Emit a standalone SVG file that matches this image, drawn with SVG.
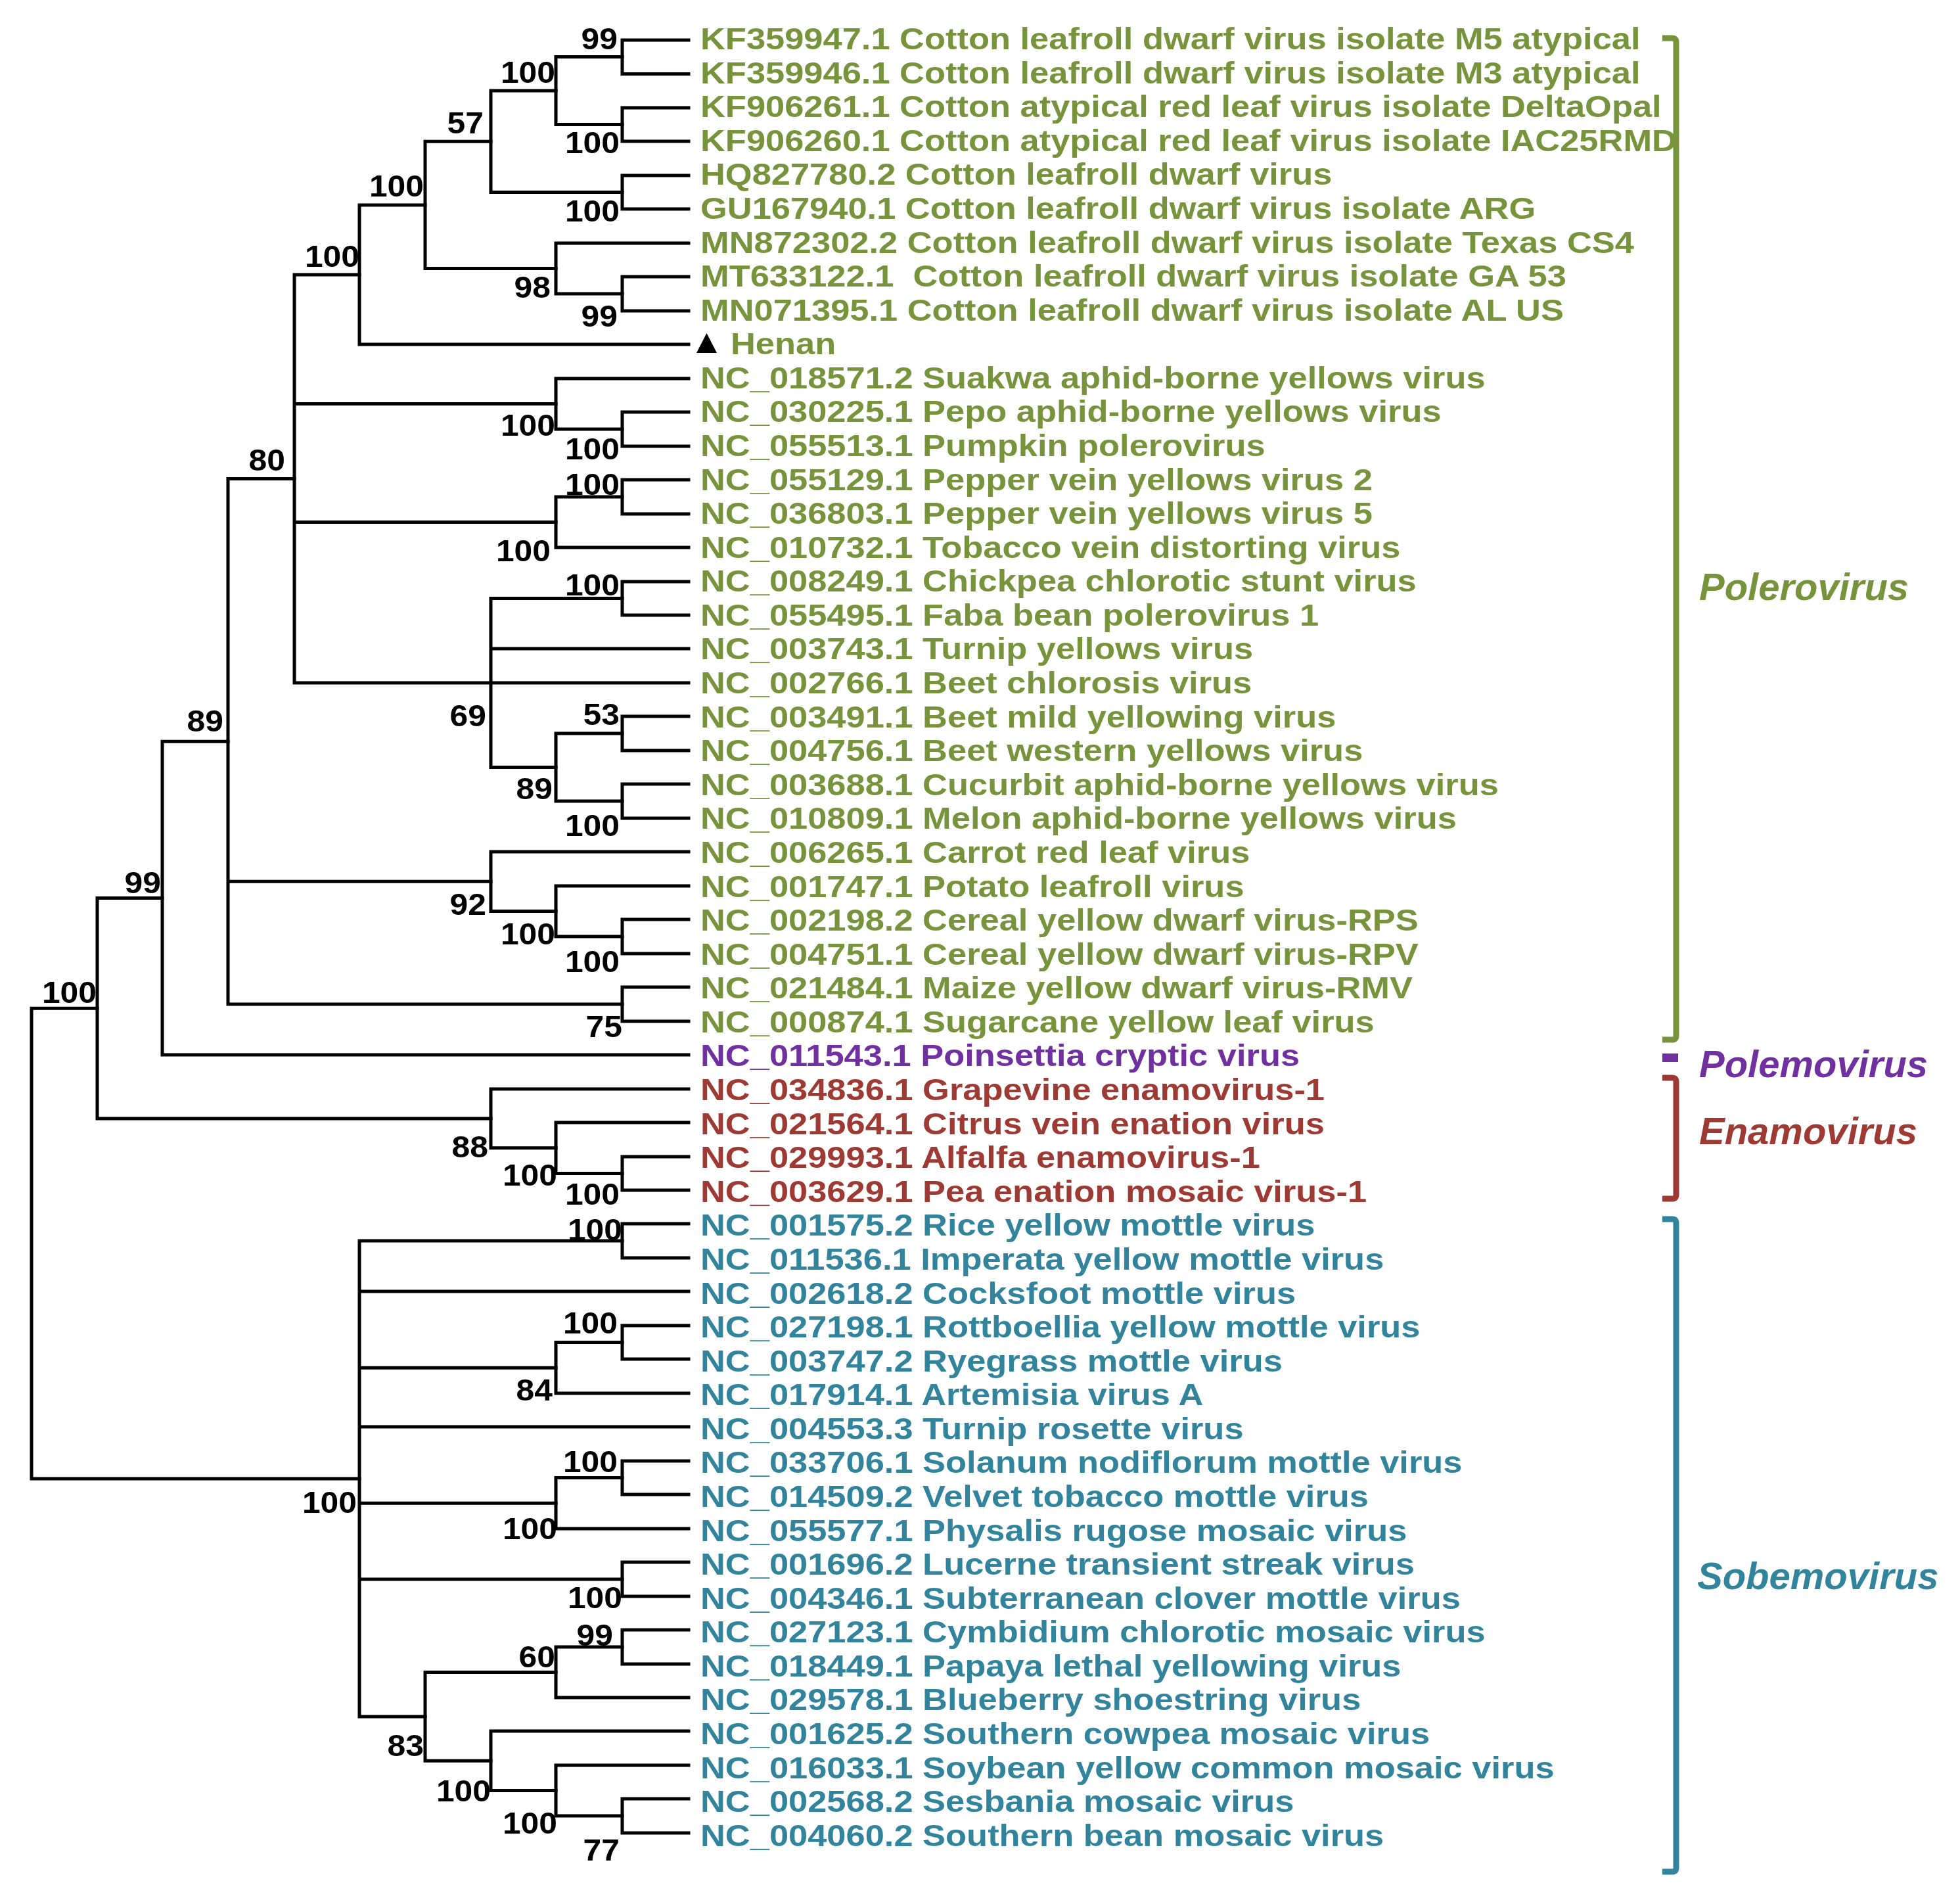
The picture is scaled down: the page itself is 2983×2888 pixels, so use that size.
<svg xmlns="http://www.w3.org/2000/svg" width="2983" height="2888" viewBox="0 0 2983 2888">
<style>
.br{fill:none;stroke:#000;stroke-width:5;stroke-linecap:square;stroke-linejoin:miter}
.bs{font-family:"Liberation Sans",Arial,sans-serif;font-weight:bold;font-size:47px;fill:#000;text-anchor:end}
.lf{font-family:"Liberation Sans",Arial,sans-serif;font-weight:bold;font-size:46px}
.gn{font-family:"Liberation Sans",Arial,sans-serif;font-weight:bold;font-style:italic;font-size:58px}
.G{fill:#77933C}.P{fill:#7030A0}.R{fill:#9C3A33}.T{fill:#31849B}
.bk{fill:none;stroke-width:9;stroke-linejoin:round}
</style>
<rect width="2983" height="2888" fill="#fff"/>
<g id="connectors">
<path class="br" d="M148 1534.25 H48 V2249.9 H547"/>
<path class="br" d="M247 1366.6 H148 V1701.9 H747"/>
<path class="br" d="M347 1128.25 H247 V1605 H1048"/>
<path class="br" d="M448 728.5 H347 V1528 H947 M347 1341.25 H747"/>
<path class="br" d="M547 418 H448 V1039 H747 M448 614.5 H846 M448 794.5 H846"/>
<path class="br" d="M647 311.9 H547 V524 H1048"/>
<path class="br" d="M747 215.25 H647 V408.5 H846"/>
<path class="br" d="M846 138 H747 V292.5 H947"/>
<path class="br" d="M947 86.5 H846 V189.5 H947"/>
<path class="br" d="M1048 61 H947 V112.5 H1048"/>
<path class="br" d="M1048 164 H947 V215 H1048"/>
<path class="br" d="M1048 267 H947 V318 H1048"/>
<path class="br" d="M1048 370 H846 V447 H947"/>
<path class="br" d="M1048 421 H947 V473 H1048"/>
<path class="br" d="M1048 576 H846 V653 H947"/>
<path class="br" d="M1048 627 H947 V679 H1048"/>
<path class="br" d="M947 756 H846 V833 H1048"/>
<path class="br" d="M1048 730 H947 V782 H1048"/>
<path class="br" d="M947 910.5 H747 V1167.5 H846 M747 987 H1048 M747 1039 H1048"/>
<path class="br" d="M1048 885 H947 V936 H1048"/>
<path class="br" d="M947 1116 H846 V1219 H947"/>
<path class="br" d="M1048 1090 H947 V1142 H1048"/>
<path class="br" d="M1048 1193 H947 V1245 H1048"/>
<path class="br" d="M1048 1296 H747 V1386.5 H846"/>
<path class="br" d="M1048 1348 H846 V1425 H947"/>
<path class="br" d="M1048 1399 H947 V1451 H1048"/>
<path class="br" d="M1048 1502 H947 V1554 H1048"/>
<path class="br" d="M1048 1657 H747 V1746.75 H846"/>
<path class="br" d="M1048 1708 H846 V1785.5 H947"/>
<path class="br" d="M1048 1760 H947 V1811 H1048"/>
<path class="br" d="M947 1888 H547 V2611.9 H647 M547 1965 H1048 M547 2081.25 H846 M547 2171 H1048 M547 2287.25 H846 M547 2403 H947"/>
<path class="br" d="M1048 1862 H947 V1914 H1048"/>
<path class="br" d="M947 2042.5 H846 V2120 H1048"/>
<path class="br" d="M1048 2017 H947 V2068 H1048"/>
<path class="br" d="M947 2248.5 H846 V2326 H1048"/>
<path class="br" d="M1048 2223 H947 V2274 H1048"/>
<path class="br" d="M1048 2377 H947 V2429 H1048"/>
<path class="br" d="M846 2544.5 H647 V2679.25 H747"/>
<path class="br" d="M947 2506 H846 V2583 H1048"/>
<path class="br" d="M1048 2480 H947 V2532 H1048"/>
<path class="br" d="M1048 2634 H747 V2724.5 H846"/>
<path class="br" d="M1048 2686 H846 V2763 H947"/>
<path class="br" d="M1048 2737 H947 V2789 H1048"/>
</g>
<g id="bootstrap">
<text class="bs" transform="translate(940 75) scale(1.06 1)">99</text>
<text class="bs" transform="translate(845 126) scale(1.06 1)">100</text>
<text class="bs" transform="translate(943 233) scale(1.06 1)">100</text>
<text class="bs" transform="translate(736 203) scale(1.06 1)">57</text>
<text class="bs" transform="translate(943 337) scale(1.06 1)">100</text>
<text class="bs" transform="translate(645 299) scale(1.06 1)">100</text>
<text class="bs" transform="translate(838 453) scale(1.06 1)">98</text>
<text class="bs" transform="translate(940 497) scale(1.06 1)">99</text>
<text class="bs" transform="translate(547 406) scale(1.06 1)">100</text>
<text class="bs" transform="translate(845 663) scale(1.06 1)">100</text>
<text class="bs" transform="translate(943 699) scale(1.06 1)">100</text>
<text class="bs" transform="translate(943 753) scale(1.06 1)">100</text>
<text class="bs" transform="translate(838 854) scale(1.06 1)">100</text>
<text class="bs" transform="translate(943 906) scale(1.06 1)">100</text>
<text class="bs" transform="translate(740 1105) scale(1.06 1)">69</text>
<text class="bs" transform="translate(943 1103) scale(1.06 1)">53</text>
<text class="bs" transform="translate(841 1216) scale(1.06 1)">89</text>
<text class="bs" transform="translate(943 1272) scale(1.06 1)">100</text>
<text class="bs" transform="translate(434 716) scale(1.06 1)">80</text>
<text class="bs" transform="translate(340 1113) scale(1.06 1)">89</text>
<text class="bs" transform="translate(740 1392) scale(1.06 1)">92</text>
<text class="bs" transform="translate(845 1437) scale(1.06 1)">100</text>
<text class="bs" transform="translate(943 1479) scale(1.06 1)">100</text>
<text class="bs" transform="translate(947 1578) scale(1.06 1)">75</text>
<text class="bs" transform="translate(245 1359) scale(1.06 1)">99</text>
<text class="bs" transform="translate(147 1526) scale(1.06 1)">100</text>
<text class="bs" transform="translate(743 1761) scale(1.06 1)">88</text>
<text class="bs" transform="translate(848 1804) scale(1.06 1)">100</text>
<text class="bs" transform="translate(943 1833) scale(1.06 1)">100</text>
<text class="bs" transform="translate(947 1887) scale(1.06 1)">100</text>
<text class="bs" transform="translate(940 2029) scale(1.06 1)">100</text>
<text class="bs" transform="translate(841 2131) scale(1.06 1)">84</text>
<text class="bs" transform="translate(940 2240) scale(1.06 1)">100</text>
<text class="bs" transform="translate(848 2342) scale(1.06 1)">100</text>
<text class="bs" transform="translate(543 2302) scale(1.06 1)">100</text>
<text class="bs" transform="translate(947 2447) scale(1.06 1)">100</text>
<text class="bs" transform="translate(933 2504) scale(1.06 1)">99</text>
<text class="bs" transform="translate(845 2537) scale(1.06 1)">60</text>
<text class="bs" transform="translate(645 2672) scale(1.06 1)">83</text>
<text class="bs" transform="translate(747 2741) scale(1.06 1)">100</text>
<text class="bs" transform="translate(848 2790) scale(1.06 1)">100</text>
<text class="bs" transform="translate(943 2831) scale(1.06 1)">77</text>
</g>
<g id="leaves">
<g id="leaf01"><text class="lf G" transform="translate(1066 75) scale(1.14 1)">KF359947.1 Cotton leafroll dwarf virus isolate M5 atypical</text></g>
<g id="leaf02"><text class="lf G" transform="translate(1066 126.6) scale(1.14 1)">KF359946.1 Cotton leafroll dwarf virus isolate M3 atypical</text></g>
<g id="leaf03"><text class="lf G" transform="translate(1066 178.2) scale(1.14 1)">KF906261.1 Cotton atypical red leaf virus isolate DeltaOpal</text></g>
<g id="leaf04"><text class="lf G" transform="translate(1066 229.7) scale(1.14 1)">KF906260.1 Cotton atypical red leaf virus isolate IAC25RMD</text></g>
<g id="leaf05"><text class="lf G" transform="translate(1066 281.3) scale(1.14 1)">HQ827780.2 Cotton leafroll dwarf virus</text></g>
<g id="leaf06"><text class="lf G" transform="translate(1066 332.9) scale(1.14 1)">GU167940.1 Cotton leafroll dwarf virus isolate ARG</text></g>
<g id="leaf07"><text class="lf G" transform="translate(1066 384.5) scale(1.14 1)">MN872302.2 Cotton leafroll dwarf virus isolate Texas CS4</text></g>
<g id="leaf08"><text class="lf G" transform="translate(1066 436.1) scale(1.14 1)" style="white-space:pre">MT633122.1  Cotton leafroll dwarf virus isolate GA 53</text></g>
<g id="leaf09"><text class="lf G" transform="translate(1066 487.6) scale(1.14 1)">MN071395.1 Cotton leafroll dwarf virus isolate AL US</text></g>
<g id="leaf10"><polygon points="1075.5,507 1060,537 1091,537" fill="#000"/><text class="lf G" transform="translate(1112 539.2) scale(1.14 1)">Henan</text></g>
<g id="leaf11"><text class="lf G" transform="translate(1066 590.8) scale(1.14 1)">NC_018571.2 Suakwa aphid-borne yellows virus</text></g>
<g id="leaf12"><text class="lf G" transform="translate(1066 642.4) scale(1.14 1)">NC_030225.1 Pepo aphid-borne yellows virus</text></g>
<g id="leaf13"><text class="lf G" transform="translate(1066 694) scale(1.14 1)">NC_055513.1 Pumpkin polerovirus</text></g>
<g id="leaf14"><text class="lf G" transform="translate(1066 745.5) scale(1.14 1)">NC_055129.1 Pepper vein yellows virus 2</text></g>
<g id="leaf15"><text class="lf G" transform="translate(1066 797.1) scale(1.14 1)">NC_036803.1 Pepper vein yellows virus 5</text></g>
<g id="leaf16"><text class="lf G" transform="translate(1066 848.7) scale(1.14 1)">NC_010732.1 Tobacco vein distorting virus</text></g>
<g id="leaf17"><text class="lf G" transform="translate(1066 900.3) scale(1.14 1)">NC_008249.1 Chickpea chlorotic stunt virus</text></g>
<g id="leaf18"><text class="lf G" transform="translate(1066 951.9) scale(1.14 1)">NC_055495.1 Faba bean polerovirus 1</text></g>
<g id="leaf19"><text class="lf G" transform="translate(1066 1003.4) scale(1.14 1)">NC_003743.1 Turnip yellows virus</text></g>
<g id="leaf20"><text class="lf G" transform="translate(1066 1055) scale(1.14 1)">NC_002766.1 Beet chlorosis virus</text></g>
<g id="leaf21"><text class="lf G" transform="translate(1066 1106.6) scale(1.14 1)">NC_003491.1 Beet mild yellowing virus</text></g>
<g id="leaf22"><text class="lf G" transform="translate(1066 1158.2) scale(1.14 1)">NC_004756.1 Beet western yellows virus</text></g>
<g id="leaf23"><text class="lf G" transform="translate(1066 1209.8) scale(1.14 1)">NC_003688.1 Cucurbit aphid-borne yellows virus</text></g>
<g id="leaf24"><text class="lf G" transform="translate(1066 1261.3) scale(1.14 1)">NC_010809.1 Melon aphid-borne yellows virus</text></g>
<g id="leaf25"><text class="lf G" transform="translate(1066 1312.9) scale(1.14 1)">NC_006265.1 Carrot red leaf virus</text></g>
<g id="leaf26"><text class="lf G" transform="translate(1066 1364.5) scale(1.14 1)">NC_001747.1 Potato leafroll virus</text></g>
<g id="leaf27"><text class="lf G" transform="translate(1066 1416.1) scale(1.14 1)">NC_002198.2 Cereal yellow dwarf virus-RPS</text></g>
<g id="leaf28"><text class="lf G" transform="translate(1066 1467.7) scale(1.14 1)">NC_004751.1 Cereal yellow dwarf virus-RPV</text></g>
<g id="leaf29"><text class="lf G" transform="translate(1066 1519.2) scale(1.14 1)">NC_021484.1 Maize yellow dwarf virus-RMV</text></g>
<g id="leaf30"><text class="lf G" transform="translate(1066 1570.8) scale(1.14 1)">NC_000874.1 Sugarcane yellow leaf virus</text></g>
<g id="leaf31"><text class="lf P" transform="translate(1066 1622.4) scale(1.14 1)">NC_011543.1 Poinsettia cryptic virus</text></g>
<g id="leaf32"><text class="lf R" transform="translate(1066 1674) scale(1.14 1)">NC_034836.1 Grapevine enamovirus-1</text></g>
<g id="leaf33"><text class="lf R" transform="translate(1066 1725.6) scale(1.14 1)">NC_021564.1 Citrus vein enation virus</text></g>
<g id="leaf34"><text class="lf R" transform="translate(1066 1777.1) scale(1.14 1)">NC_029993.1 Alfalfa enamovirus-1</text></g>
<g id="leaf35"><text class="lf R" transform="translate(1066 1828.7) scale(1.14 1)">NC_003629.1 Pea enation mosaic virus-1</text></g>
<g id="leaf36"><text class="lf T" transform="translate(1066 1880.3) scale(1.14 1)">NC_001575.2 Rice yellow mottle virus</text></g>
<g id="leaf37"><text class="lf T" transform="translate(1066 1931.9) scale(1.14 1)">NC_011536.1 Imperata yellow mottle virus</text></g>
<g id="leaf38"><text class="lf T" transform="translate(1066 1983.5) scale(1.14 1)">NC_002618.2 Cocksfoot mottle virus</text></g>
<g id="leaf39"><text class="lf T" transform="translate(1066 2035) scale(1.14 1)">NC_027198.1 Rottboellia yellow mottle virus</text></g>
<g id="leaf40"><text class="lf T" transform="translate(1066 2086.6) scale(1.14 1)">NC_003747.2 Ryegrass mottle virus</text></g>
<g id="leaf41"><text class="lf T" transform="translate(1066 2138.2) scale(1.14 1)">NC_017914.1 Artemisia virus A</text></g>
<g id="leaf42"><text class="lf T" transform="translate(1066 2189.8) scale(1.14 1)">NC_004553.3 Turnip rosette virus</text></g>
<g id="leaf43"><text class="lf T" transform="translate(1066 2241.4) scale(1.14 1)">NC_033706.1 Solanum nodiflorum mottle virus</text></g>
<g id="leaf44"><text class="lf T" transform="translate(1066 2292.9) scale(1.14 1)">NC_014509.2 Velvet tobacco mottle virus</text></g>
<g id="leaf45"><text class="lf T" transform="translate(1066 2344.5) scale(1.14 1)">NC_055577.1 Physalis rugose mosaic virus</text></g>
<g id="leaf46"><text class="lf T" transform="translate(1066 2396.1) scale(1.14 1)">NC_001696.2 Lucerne transient streak virus</text></g>
<g id="leaf47"><text class="lf T" transform="translate(1066 2447.7) scale(1.14 1)">NC_004346.1 Subterranean clover mottle virus</text></g>
<g id="leaf48"><text class="lf T" transform="translate(1066 2499.3) scale(1.14 1)">NC_027123.1 Cymbidium chlorotic mosaic virus</text></g>
<g id="leaf49"><text class="lf T" transform="translate(1066 2550.8) scale(1.14 1)">NC_018449.1 Papaya lethal yellowing virus</text></g>
<g id="leaf50"><text class="lf T" transform="translate(1066 2602.4) scale(1.14 1)">NC_029578.1 Blueberry shoestring virus</text></g>
<g id="leaf51"><text class="lf T" transform="translate(1066 2654) scale(1.14 1)">NC_001625.2 Southern cowpea mosaic virus</text></g>
<g id="leaf52"><text class="lf T" transform="translate(1066 2705.6) scale(1.14 1)">NC_016033.1 Soybean yellow common mosaic virus</text></g>
<g id="leaf53"><text class="lf T" transform="translate(1066 2757.2) scale(1.14 1)">NC_002568.2 Sesbania mosaic virus</text></g>
<g id="leaf54"><text class="lf T" transform="translate(1066 2808.7) scale(1.14 1)">NC_004060.2 Southern bean mosaic virus</text></g>
</g>
<g id="group-polerovirus">
<path class="bk" stroke="#77933C" d="M2530 58 H2545 Q2551 58 2551 64 V1576 Q2551 1582 2545 1582 H2530"/>
<text class="gn G" x="2586" y="913">Polerovirus</text>
</g>
<g id="group-polemovirus">
<rect x="2530" y="1603" width="24" height="13" fill="#7030A0"/>
<text class="gn P" x="2586" y="1639">Polemovirus</text>
</g>
<g id="group-enamovirus">
<path class="bk" stroke="#9C3A33" d="M2530 1640 H2545 Q2551 1640 2551 1646 V1818 Q2551 1824 2545 1824 H2530"/>
<text class="gn R" x="2586" y="1741">Enamovirus</text>
</g>
<g id="group-sobemovirus">
<path class="bk" stroke="#31849B" d="M2530 1855 H2545 Q2551 1855 2551 1861 V2842 Q2551 2848 2545 2848 H2530"/>
<text class="gn T" x="2583" y="2418">Sobemovirus</text>
</g>
</svg>
